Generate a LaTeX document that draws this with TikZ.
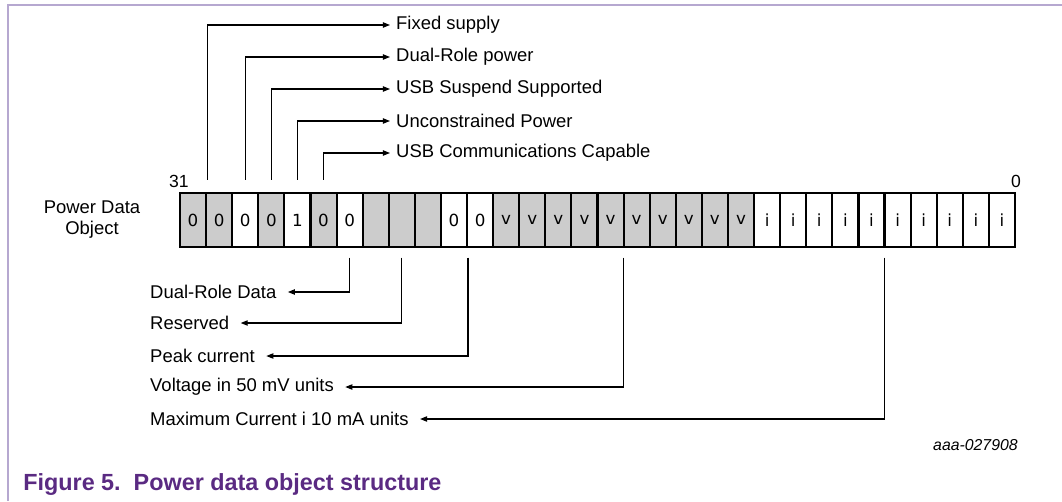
\documentclass[tikz,border=0pt]{standalone}
\usepackage{fontspec}
\setmainfont{Liberation Sans}
\setsansfont{Liberation Sans}
\newfontfamily\bitfont{DejaVu Sans}
\usetikzlibrary{positioning, arrows.meta, calc}

\definecolor{framepurple}{RGB}{182,168,208}
\definecolor{captionpurple}{RGB}{90,42,130}
\definecolor{cellgrey}{RGB}{204,204,204}

\begin{document}
\begin{tikzpicture}[
  x=0.02cm, y=-0.02cm,
  font=\sffamily\fontsize{10.5}{12}\selectfont,
  cell/.style={
    draw=black, line width=1.2pt, inner sep=0pt,
    minimum width=0.5219cm, minimum height=1.08cm,
    font=\bitfont\fontsize{9.5}{10}\selectfont
  },
  greycell/.style={fill=cellgrey},
  whitecell/.style={fill=white},
  leader/.style={draw=black, line width=0.7pt, -{Triangle[length=4pt,width=3pt]}},
  fieldlabel/.style={anchor=west},
  bitnum/.style={inner sep=1pt, font=\sffamily\fontsize{10}{10}\selectfont},
]
\useasboundingbox (0,0) rectangle (1062,501);

% Frame lines (top and left)
\draw[framepurple, line width=1.2pt] (8,501) -- (8,5) -- (1062,5);

% Register cells, bit 31 on the left
\foreach \kind/\val [count=\n from 0] in {
    greycell/0, greycell/0, whitecell/0, greycell/0, whitecell/1, greycell/0,
    whitecell/0, greycell/{}, greycell/{}, greycell/{}, whitecell/0, whitecell/0,
    greycell/v, greycell/v, greycell/v, greycell/v, greycell/v,
    greycell/v, greycell/v, greycell/v, greycell/v, greycell/v,
    whitecell/i, whitecell/i, whitecell/i, whitecell/i, whitecell/i,
    whitecell/i, whitecell/i, whitecell/i, whitecell/i, whitecell/i}
{
  \pgfmathtruncatemacro\bit{31-\n}
  \node[cell, \kind] (b\bit) at ({180+(\n+0.5)*26.094}, 220) {\val};
}

% Bit numbers and row name
\node[bitnum, above=1.5pt of b31.north west] (msb) {31};
\node[bitnum, above=1.5pt of b0.north east] (lsb) {0};
\node[align=center] (pdo) at (92,220) {Power Data\\Object};

% Fields above the register
\node[fieldlabel] (fixed) at (390,25) {Fixed supply};
\node[fieldlabel] (drpower) at (390,57) {Dual-Role power};
\node[fieldlabel] (suspend) at (390,89) {USB Suspend Supported};
\node[fieldlabel] (unconstr) at (390,121) {Unconstrained Power};
\node[fieldlabel] (usbcomm) at (390,153) {USB Communications Capable};

\draw[leader] ([yshift=7pt]b31.north east) |- (fixed.west);
\draw[leader] ([yshift=7pt]b29.north) |- (drpower.west);
\draw[leader] ([yshift=7pt]b28.north) |- (suspend.west);
\draw[leader] ([yshift=7pt]b27.north) |- (unconstr.west);
\draw[leader] ([yshift=7pt]b26.north) |- (usbcomm.west);

% Fields below the register
\node[fieldlabel] (drdata) at (144,292) {Dual-Role Data};
\node[fieldlabel] (reserved) at (144,323) {Reserved};
\node[fieldlabel] (peak) at (144,356) {Peak current};
\node[fieldlabel] (voltage) at (144,387) {Voltage in 50 mV units};
\node[fieldlabel] (maxcur) at (144,419) {Maximum Current i 10 mA units};

\coordinate (vmid) at ($(b19.south west)!0.5!(b10.south east)$);
\coordinate (imid) at ($(b9.south west)!0.5!(b0.south east)$);

\draw[leader] ([yshift=-5.5pt]b25.south) |- ([xshift=3pt]drdata.east);
\draw[leader] ([yshift=-5.5pt]b23.south) |- ([xshift=3pt]reserved.east);
\draw[leader] ([yshift=-5.5pt]b21.south east) |- ([xshift=3pt]peak.east);
\draw[leader] ([yshift=-5.5pt]vmid) |- ([xshift=3pt]voltage.east);
\draw[leader] ([yshift=-5.5pt]imid) |- ([xshift=3pt]maxcur.east);

% Figure id and caption
\node[anchor=east, inner sep=0pt, font=\sffamily\itshape\fontsize{9}{10}\selectfont]
  (figid) at (1018,445) {aaa-027908};
\node[anchor=base west, inner sep=0pt, text=captionpurple,
  font=\sffamily\bfseries\fontsize{13.3}{15}\selectfont]
  (caption) at (23,490) {Figure 5.\ \ Power data object structure};

\end{tikzpicture}
\end{document}
